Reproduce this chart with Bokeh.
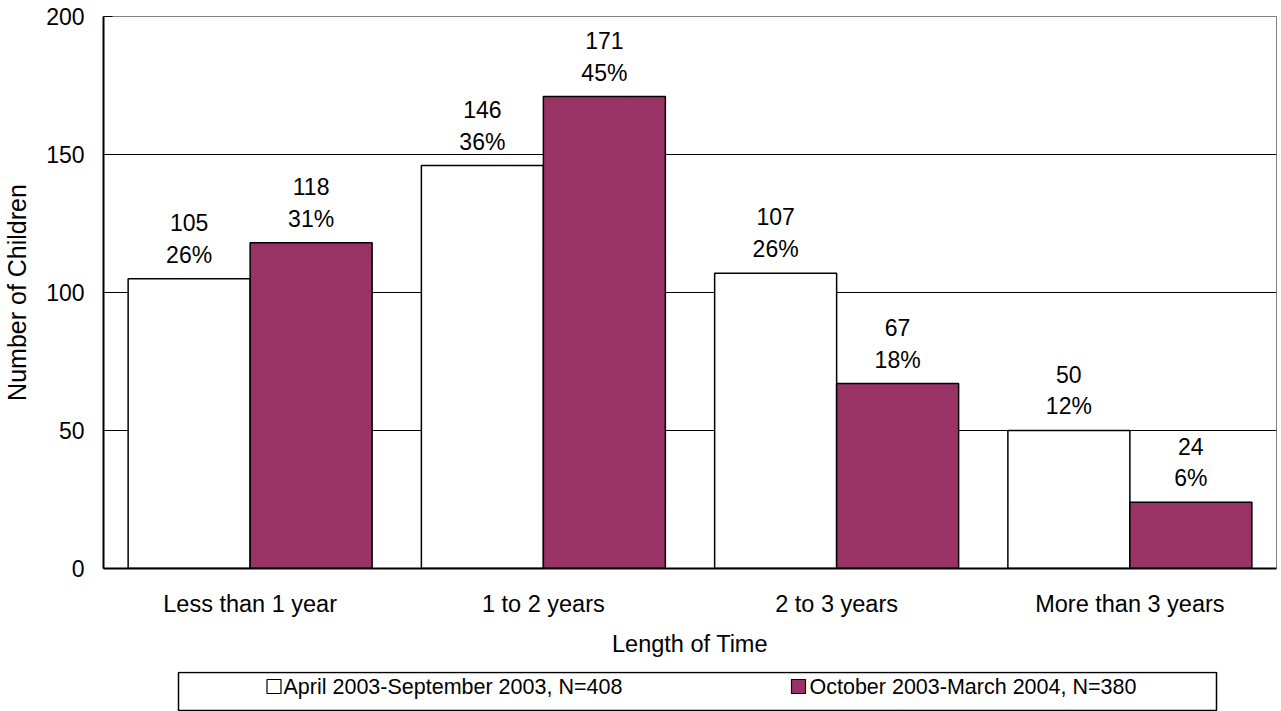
from bokeh.plotting import figure
from bokeh.models import FactorRange, Range1d, FixedTicker, ColumnDataSource
from bokeh.transform import dodge
from bokeh.layouts import column
from bokeh.core.properties import value
from bokeh.embed import file_html
from bokeh.resources import INLINE

# ---- data ----
categories = ["Less than 1 year", "1 to 2 years", "2 to 3 years", "More than 3 years"]
series_names = ["April 2003-September 2003, N=408", "October 2003-March 2004, N=380"]
counts_apr = [105, 146, 107, 50]
counts_oct = [118, 171, 67, 24]
pct_apr = [26, 36, 26, 12]
pct_oct = [31, 45, 18, 6]
y_ticks = [0, 50, 100, 150, 200]
grid_ticks = [50, 100, 150]

FONT = "Liberation Sans"
MAROON = "#993366"

src = ColumnDataSource(dict(
    cat=categories,
    a=counts_apr,
    b=counts_oct,
    la=[f"{c}\n{p}%" for c, p in zip(counts_apr, pct_apr)],
    lb=[f"{c}\n{p}%" for c, p in zip(counts_oct, pct_oct)],
))

W = 1281
ML, MR = 103, 5

p = figure(width=W, height=671, x_range=FactorRange(*categories, range_padding=0),
           y_range=Range1d(0, 200), output_backend="svg", toolbar_location=None,
           min_border_left=ML, min_border_right=MR, min_border_top=16, min_border_bottom=103)

p.outline_line_color = "#808080"
p.outline_line_width = 1
p.background_fill_color = "white"
p.border_fill_color = "white"

bw = 0.416
p.vbar(x=dodge("cat", -bw / 2, range=p.x_range), top="a", width=bw, source=src,
       fill_color="white", line_color="black", line_width=1.5)
p.vbar(x=dodge("cat", bw / 2, range=p.x_range), top="b", width=bw, source=src,
       fill_color=MAROON, line_color="black", line_width=1.5)

for ycol, tcol, off in (("a", "la", -bw / 2), ("b", "lb", bw / 2)):
    p.text(x=dodge("cat", off, range=p.x_range), y=ycol, text=tcol, source=src,
           text_align="center", text_baseline="bottom", y_offset=-11,
           text_font=value(FONT), text_font_size="23px", text_line_height=1.22,
           text_color="black")

# grid
p.xgrid.visible = False
p.ygrid.ticker = FixedTicker(ticks=grid_ticks)
p.ygrid.grid_line_color = "black"
p.ygrid.grid_line_width = 1

# y axis
p.yaxis.ticker = FixedTicker(ticks=y_ticks)
p.yaxis.axis_label = "Number of Children"
p.yaxis.axis_line_color = "black"
p.yaxis.axis_line_width = 2
p.yaxis.major_tick_in = 9
p.yaxis.major_tick_out = 0
p.yaxis.major_tick_line_color = "black"
p.yaxis.minor_tick_line_color = None
p.yaxis.major_label_standoff = 19
p.yaxis.major_label_text_font = FONT
p.yaxis.major_label_text_font_size = "23px"
p.yaxis.major_label_text_color = "black"
p.yaxis.axis_label_text_font = FONT
p.yaxis.axis_label_text_font_size = "25px"
p.yaxis.axis_label_text_font_style = "normal"
p.yaxis.axis_label_text_color = "black"
p.yaxis.axis_label_standoff = 12

# x axis
p.xaxis.axis_label = "Length of Time"
p.xaxis.axis_line_color = "black"
p.xaxis.axis_line_width = 2
p.xaxis.major_tick_line_color = None
p.xaxis.major_tick_in = 0
p.xaxis.major_tick_out = 0
p.xaxis.minor_tick_line_color = None
p.xaxis.major_label_standoff = 22
p.xaxis.major_label_text_font = FONT
p.xaxis.major_label_text_font_size = "23.5px"
p.xaxis.major_label_text_color = "black"
p.xaxis.axis_label_text_font = FONT
p.xaxis.axis_label_text_font_size = "23.5px"
p.xaxis.axis_label_text_font_style = "normal"
p.xaxis.axis_label_text_color = "black"
p.xaxis.axis_label_standoff = 11

# ---- legend strip (its own small figure; x in page pixels) ----
lg = figure(width=W, height=40, x_range=Range1d(ML, W - MR), y_range=Range1d(0, 40),
            output_backend="svg", toolbar_location=None,
            min_border_left=ML, min_border_right=MR, min_border_top=0, min_border_bottom=0,
            x_axis_location=None, y_axis_location=None)
lg.outline_line_color = None
lg.grid.visible = False
lg.quad(left=[178], right=[1216], bottom=[1], top=[39], fill_color="white",
        line_color="black", line_width=1.5)
lg.rect(x=[273.5, 798], y=[25, 25], width=14, height=14,
        fill_color=["white", MAROON], line_color="black", line_width=1.2)
lg.text(x=[283, 809], y=[25, 25], text=series_names, text_baseline="middle",
        text_align="left", text_font=value(FONT), text_font_size="21.5px", text_color="black")

layout = column(p, lg, spacing=0)
open("out.html", "w").write(file_html(layout, INLINE))
